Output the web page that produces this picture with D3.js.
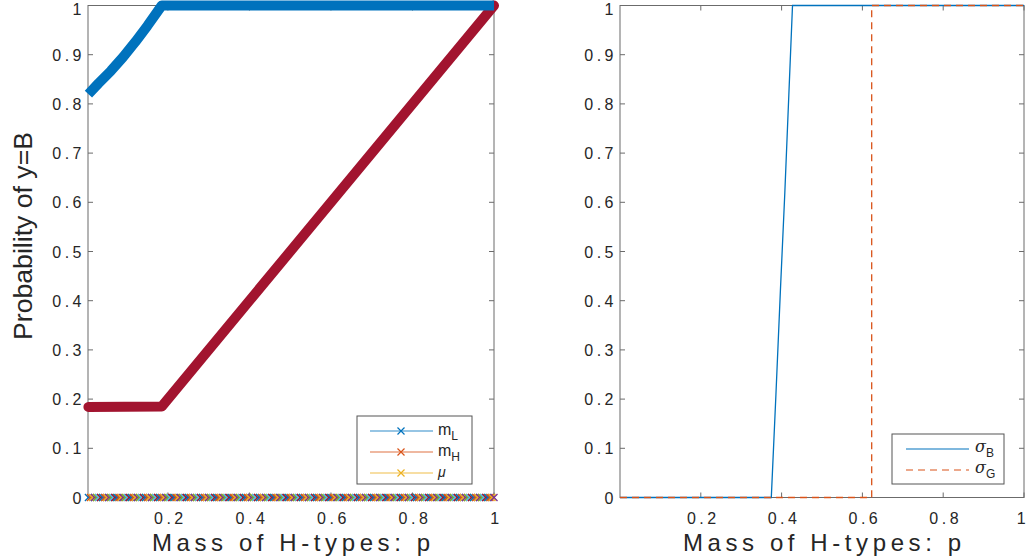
<!DOCTYPE html>
<html>
<head>
<meta charset="utf-8">
<script src="https://cdn.jsdelivr.net/npm/d3@7"></script>
<style>
  body { margin: 0; background: white; }
  text { font-family: "Liberation Sans", Arial, sans-serif; fill: #262626; }
</style>
</head>
<body>
<div id="chart"></div>
<script>
// Tick labels
const pTicks = [0.2, 0.4, 0.6, 0.8, 1];
const yTicks = [0, 0.1, 0.2, 0.3, 0.4, 0.5, 0.6, 0.7, 0.8, 0.9, 1];

// Left panel series
const mLp = [0.005, 0.03, 0.06, 0.09, 0.12, 0.15, 0.185, 1];
const mLv = [0.82, 0.842, 0.867, 0.895, 0.926, 0.959, 1, 1];
const redP = [0.005, 0.185, 1];
const redV = [0.184, 0.185, 1];
// many series that stay at zero, sampled on the p grid
const zeroGrid = d3.range(0.005, 1.0001, 0.005);
const zeroColors = ["#0072BD", "#D95319", "#EDB120", "#7E2F8E", "#77AC30", "#4DBEEE", "#A2142F"];

// Right panel series
const sigBp = [0, 0.3745, 0.386, 0.397, 0.408, 0.418, 0.427, 1];
const sigBv = [0, 0, 0.21, 0.42, 0.62, 0.82, 1, 1];
const sigGp = [0, 0.623, 0.623, 1];
const sigGv = [0, 0, 1, 1];

const width = 1028, height = 560;
const plotTop = 5.5, plotBottom = 497.5;

const svg = d3.select("#chart").append("svg")
    .attr("width", width)
    .attr("height", height);

const y = d3.scaleLinear().domain([0, 1]).range([plotBottom, plotTop]);
const xL = d3.scaleLinear().domain([0.004, 1]).range([88, 494]);
const xR = d3.scaleLinear().domain([0, 1]).range([620, 1024]);

function drawFrame(x) {
    const g = svg.append("g");
    const [x0, x1] = x.range();
    // box
    g.append("rect")
        .attr("x", x0).attr("y", plotTop)
        .attr("width", x1 - x0).attr("height", plotBottom - plotTop)
        .attr("fill", "none").attr("stroke", "#6b6b6b").attr("stroke-width", 1);
    // y ticks (inward on both sides)
    yTicks.forEach(t => {
        g.append("line").attr("x1", x0).attr("x2", x0 + 5)
            .attr("y1", y(t)).attr("y2", y(t)).attr("stroke", "#6b6b6b");
        g.append("line").attr("x1", x1).attr("x2", x1 - 5)
            .attr("y1", y(t)).attr("y2", y(t)).attr("stroke", "#6b6b6b");
        g.append("text")
            .attr("x", x0 - 3).attr("y", Math.max(y(t) + 6, 15))
            .attr("text-anchor", "end")
            .attr("font-size", "16px")
            .attr("letter-spacing", "3.5px")
            .text(t === 0 || t === 1 ? String(t) : t.toFixed(1));
    });
    // x ticks
    pTicks.forEach(t => {
        g.append("line").attr("x1", x(t)).attr("x2", x(t))
            .attr("y1", plotBottom).attr("y2", plotBottom - 5).attr("stroke", "#6b6b6b");
        g.append("line").attr("x1", x(t)).attr("x2", x(t))
            .attr("y1", plotTop).attr("y2", plotTop + 5).attr("stroke", "#6b6b6b");
        g.append("text")
            .attr("x", Math.min(x(t) + 2.5, 1023)).attr("y", plotBottom + 26)
            .attr("text-anchor", "middle")
            .attr("font-size", "16px")
            .attr("letter-spacing", "3.5px")
            .text(t === 1 ? "1" : t.toFixed(1));
    });
    g.append("text")
        .attr("x", (x0 + x1) / 2).attr("y", 551)
        .attr("text-anchor", "middle")
        .attr("font-size", "24px")
        .attr("textLength", 278)
        .attr("lengthAdjust", "spacing")
        .text("Mass of H-types: p");
}

drawFrame(xL);
drawFrame(xR);

// y label
svg.append("text")
    .attr("transform", "translate(32,236) rotate(-90)")
    .attr("text-anchor", "middle")
    .attr("font-size", "25px")
    .attr("font-family", "'Liberation Sans Narrow', 'Liberation Sans', sans-serif")
    .attr("textLength", 208)
    .attr("lengthAdjust", "spacingAndGlyphs")
    .text("Probability of y=B");

// ---- Left panel marks ----
const lineL = d3.line().x(d => xL(d[0])).y(d => y(d[1]));

svg.append("path")
    .datum(redP.map((p, i) => [p, redV[i]]))
    .attr("d", lineL)
    .attr("fill", "none").attr("stroke", "#A2142F")
    .attr("stroke-width", 10).attr("stroke-linecap", "round").attr("stroke-linejoin", "round");

svg.append("path")
    .datum(mLp.map((p, i) => [p, mLv[i]]))
    .attr("d", lineL)
    .attr("fill", "none").attr("stroke", "#0072BD")
    .attr("stroke-width", 10).attr("stroke-linejoin", "round");

// row of x markers at zero
const zg = svg.append("g");
zeroGrid.forEach((p, i) => {
    const cx = xL(p), cy = y(0), r = 3.5;
    zg.append("path")
        .attr("d", `M${cx - r},${cy - r}L${cx + r},${cy + r}M${cx - r},${cy + r}L${cx + r},${cy - r}`)
        .attr("stroke", zeroColors[i % zeroColors.length])
        .attr("stroke-width", 1.3)
        .attr("fill", "none");
});

// left legend
const legL = svg.append("g");
legL.append("rect").attr("x", 357).attr("y", 416).attr("width", 115).attr("height", 68)
    .attr("fill", "white").attr("stroke", "#555");
const legLNames = ["m", "m", "μ"];
const legLSubs = ["L", "H", ""];
const legLColors = ["#0072BD", "#D95319", "#EDB120"];
legLNames.forEach((n, i) => {
    const ly = 431 + i * 21;
    legL.append("line").attr("x1", 370).attr("x2", 433).attr("y1", ly).attr("y2", ly)
        .attr("stroke", legLColors[i]).attr("stroke-opacity", 0.55).attr("stroke-width", 1.5);
    const cx = 401, r = 3.5;
    legL.append("path")
        .attr("d", `M${cx - r},${ly - r}L${cx + r},${ly + r}M${cx - r},${ly + r}L${cx + r},${ly - r}`)
        .attr("stroke", legLColors[i]).attr("stroke-width", 1.2);
    const t = legL.append("text").attr("x", 438).attr("y", ly + 4).attr("font-size", "16px");
    if (i === 2) {
        t.attr("font-style", "italic").attr("font-family", "'DejaVu Serif', serif").attr("font-size", "14px").text(n);
    } else {
        t.text(n);
        t.append("tspan").attr("dy", 5).attr("font-size", "12px").text(legLSubs[i]);
    }
});

// ---- Right panel marks ----
const lineR = d3.line().x(d => xR(d[0])).y(d => y(d[1]));

svg.append("path")
    .datum(sigBp.map((p, i) => [p, sigBv[i]]))
    .attr("d", lineR)
    .attr("fill", "none").attr("stroke", "#0072BD").attr("stroke-width", 1.3);

svg.append("path")
    .datum(sigGp.map((p, i) => [p, sigGv[i]]))
    .attr("d", lineR)
    .attr("fill", "none").attr("stroke", "#D95319").attr("stroke-width", 1.3)
    .attr("stroke-dasharray", "7,5");

// right legend
const legR = svg.append("g");
legR.append("rect").attr("x", 892).attr("y", 434).attr("width", 112).attr("height", 50)
    .attr("fill", "white").attr("stroke", "#555");
const legRSubs = ["B", "G"];
const legRColors = ["#0072BD", "#D95319"];
legRSubs.forEach((s, i) => {
    const ly = 449 + i * 21;
    legR.append("line").attr("x1", 906).attr("x2", 969).attr("y1", ly).attr("y2", ly)
        .attr("stroke", legRColors[i]).attr("stroke-width", 1.2)
        .attr("stroke-dasharray", i === 1 ? "7,5" : null);
    const t = legR.append("text").attr("x", 975).attr("y", ly + 3)
        .attr("font-size", "16px");
    t.append("tspan").attr("font-style", "italic").attr("font-family", "'DejaVu Serif', serif").text("σ");
    t.append("tspan").attr("dy", 5).attr("font-size", "12px").text(s);
});
</script>
</body>
</html>
